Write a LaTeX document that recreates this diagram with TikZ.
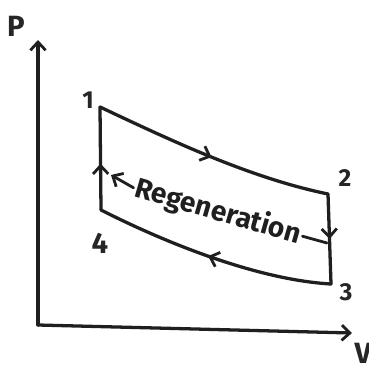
\documentclass[tikz,border=0pt]{standalone}
\usepackage{fontspec}
\setmainfont{Fira Sans}
\usetikzlibrary{arrows.meta,decorations.markings}
\tikzset{
    >={Straight Barb[length=7pt,width=13pt,line width=2.4pt]},
    pen/.style={line width=2.8pt, line cap=round, line join=round, draw=black!88},
    midarrow/.style={postaction={decorate}, decoration={markings, mark=at position #1 with {\arrow{>}}}},
    numlabel/.style={font=\fontsize{21}{21}\selectfont\bfseries, text=black!85, inner sep=0pt},
    axislabel/.style={font=\fontsize{25}{25}\selectfont\bfseries, text=black!85, inner sep=0pt}
}
\begin{document}
\begin{tikzpicture}[x=0.03cm,y=-0.03cm]
\useasboundingbox (0,0) rectangle (369,366);
% axes
\coordinate (o) at (38,325);
\coordinate (ptop) at (38,40);
\coordinate (vend) at (352,333);
\draw[pen,->] (o) -- (ptop);
\draw[pen,->] (o) -- (vend);
\node[axislabel] (plab) at (16,26) {P};
\node[axislabel] (vlab) at (363,353) {V};
% cycle states
\coordinate (s1) at (100,107);
\coordinate (s2) at (328,194);
\coordinate (s3) at (331,284);
\coordinate (s4) at (101,210);
\draw[pen, midarrow=0.5] (s1) .. controls (170,140) and (250,178) .. (s2);
\draw[pen, midarrow=0.5] (s2) -- (s3);
\draw[pen, midarrow=0.52] (s3) .. controls (260,280) and (170,245) .. (s4);
\draw[pen, midarrow=0.45] (s4) -- (s1);
\node[numlabel] (n1) at (88,100) {1};
\node[numlabel] (n2) at (345,178) {2};
\node[numlabel] (n3) at (346,292) {3};
\node[numlabel, font=\fontsize{25}{25}\selectfont\bfseries] (n4) at (100,243) {4};
% regenerator
\node[font=\fontsize{24}{24}\selectfont\bfseries, text=black!88, rotate=-16, inner sep=1.5pt] (regen) at (218,212) {Regeneration};
\coordinate (r41) at (111,175);
\coordinate (r23) at (327,243);
\draw[pen, line width=2.4pt, ->] (regen.west) -- (r41);
\draw[pen, line width=2.4pt] (regen.east) -- (r23);
\end{tikzpicture}
\end{document}
